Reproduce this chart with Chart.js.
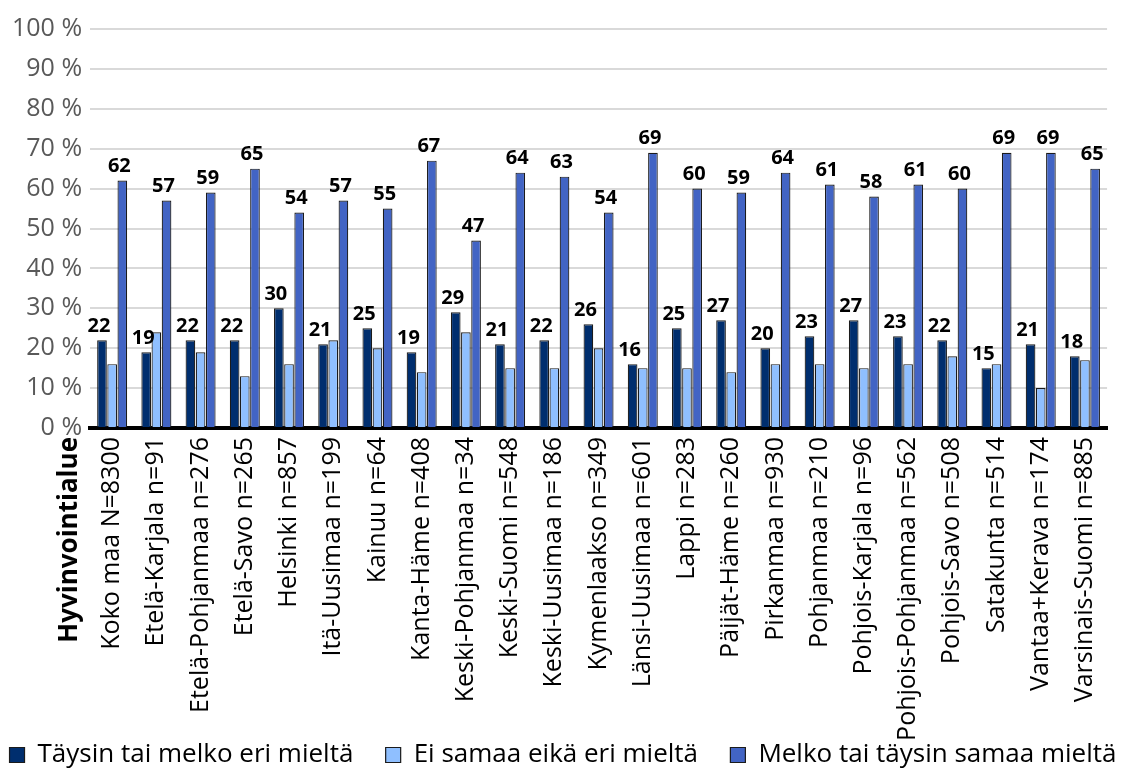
<!DOCTYPE html>
<html>
<head>
  <meta charset="UTF-8">
  <title>Hyvinvointialue</title>
  <script src="https://cdn.jsdelivr.net/npm/chart.js@4/dist/chart.umd.min.js"></script>
  <style>
    body { margin: 0; background: #fff; }
    #wrap { width: 1124px; height: 778px; position: relative; }
  </style>
</head>
<body>
  <div id="wrap"><canvas id="chart"></canvas></div>

  <script>
    var categories = [
      "Koko maa N=8300", "Etelä-Karjala n=91", "Etelä-Pohjanmaa n=276", "Etelä-Savo n=265",
      "Helsinki n=857", "Itä-Uusimaa n=199", "Kainuu n=64", "Kanta-Häme n=408",
      "Keski-Pohjanmaa n=34", "Keski-Suomi n=548", "Keski-Uusimaa n=186", "Kymenlaakso n=349",
      "Länsi-Uusimaa n=601", "Lappi n=283", "Päijät-Häme n=260", "Pirkanmaa n=930",
      "Pohjanmaa n=210", "Pohjois-Karjala n=96", "Pohjois-Pohjanmaa n=562", "Pohjois-Savo n=508",
      "Satakunta n=514", "Vantaa+Kerava n=174", "Varsinais-Suomi n=885"
    ];
    var seriesNames = ["Täysin tai melko eri mieltä", "Ei samaa eikä eri mieltä", "Melko tai täysin samaa mieltä"];
    var disagree = [22, 19, 22, 22, 30, 21, 25, 19, 29, 21, 22, 26, 16, 25, 27, 20, 23, 27, 23, 22, 15, 21, 18];
    var neutral  = [16, 24, 19, 13, 16, 22, 20, 14, 24, 15, 15, 20, 15, 15, 14, 16, 16, 15, 16, 18, 16, 10, 17];
    var agree    = [62, 57, 59, 65, 54, 57, 55, 67, 47, 64, 63, 54, 69, 60, 59, 64, 61, 58, 61, 60, 69, 69, 65];
    var yTicks = [0, 10, 20, 30, 40, 50, 60, 70, 80, 90, 100];
    var axisTitle = "Hyvinvointialue";

    var colors = ["#002E6E", "#8FBFFF", "#4264C4"];
    var labelledSeries = [0, 2];

    Chart.defaults.font.family = "'Open Sans', 'Noto Sans', sans-serif";

    // value labels above bars + axis title under the y axis
    var extras = {
      id: "extras",
      afterDatasetsDraw: function (chart) {
        var ctx = chart.ctx;
        ctx.save();
        ctx.fillStyle = "#000";
        ctx.font = "bold 20px 'Open Sans', sans-serif";
        ctx.textAlign = "center";
        ctx.textBaseline = "bottom";
        labelledSeries.forEach(function (d) {
          var meta = chart.getDatasetMeta(d);
          meta.data.forEach(function (bar, i) {
            ctx.fillText(chart.data.datasets[d].data[i], bar.x - 3, bar.y - 4);
          });
        });
        ctx.restore();
      },
      afterDraw: function (chart) {
        var ctx = chart.ctx;
        var x = chart.scales.x;
        ctx.save();
        ctx.translate(x.getPixelForTick(0) - 43, x.top + 9);
        ctx.rotate(-Math.PI / 2);
        ctx.font = "bold 26px 'Open Sans', sans-serif";
        ctx.fillStyle = "#000";
        ctx.textAlign = "right";
        ctx.textBaseline = "middle";
        ctx.fillText(axisTitle, 0, 0);
        ctx.restore();
      }
    };

    new Chart("chart", {
      type: "bar",
      data: {
        labels: categories,
        datasets: [disagree, neutral, agree].map(function (vals, i) {
          return {
            label: seriesNames[i],
            data: vals,
            backgroundColor: colors[i],
            borderColor: "#1b1b1b",
            borderWidth: 1.2,
            barPercentage: 0.95,
            categoryPercentage: 0.69
          };
        })
      },
      options: {
        responsive: true,
        maintainAspectRatio: false,
        animation: false,
        layout: { padding: { top: 29, right: 2, left: 4, bottom: 0 } },
        scales: {
          y: {
            min: 0,
            max: 100,
            afterBuildTicks: function (axis) {
              axis.ticks = yTicks.map(function (v) { return { value: v }; });
            },
            grid: { color: "#D9D9D9", lineWidth: 2, drawTicks: false },
            border: { display: false },
            ticks: {
              color: "#595959",
              font: { size: 25 },
              padding: 8,
              callback: function (v) { return v + " %"; }
            }
          },
          x: {
            afterFit: function (scale) { scale.height = 312; },
            grid: { display: false, drawTicks: false },
            border: { color: "#000", width: 4 },
            ticks: {
              color: "#000",
              font: { size: 25 },
              minRotation: 90,
              maxRotation: 90,
              autoSkip: false,
              padding: 9
            }
          }
        },
        plugins: {
          legend: {
            position: "bottom",
            labels: {
              color: "#000",
              font: { size: 26 },
              boxWidth: 15,
              boxHeight: 15,
              padding: 2,
              generateLabels: function (chart) {
                var items = Chart.defaults.plugins.legend.labels.generateLabels(chart);
                items.forEach(function (it, i) {
                  if (i < items.length - 1) it.text = it.text + "\u2003\u2009";
                });
                return items;
              }
            }
          },
          tooltip: { enabled: false }
        }
      },
      plugins: [extras]
    });
  </script>
</body>
</html>
